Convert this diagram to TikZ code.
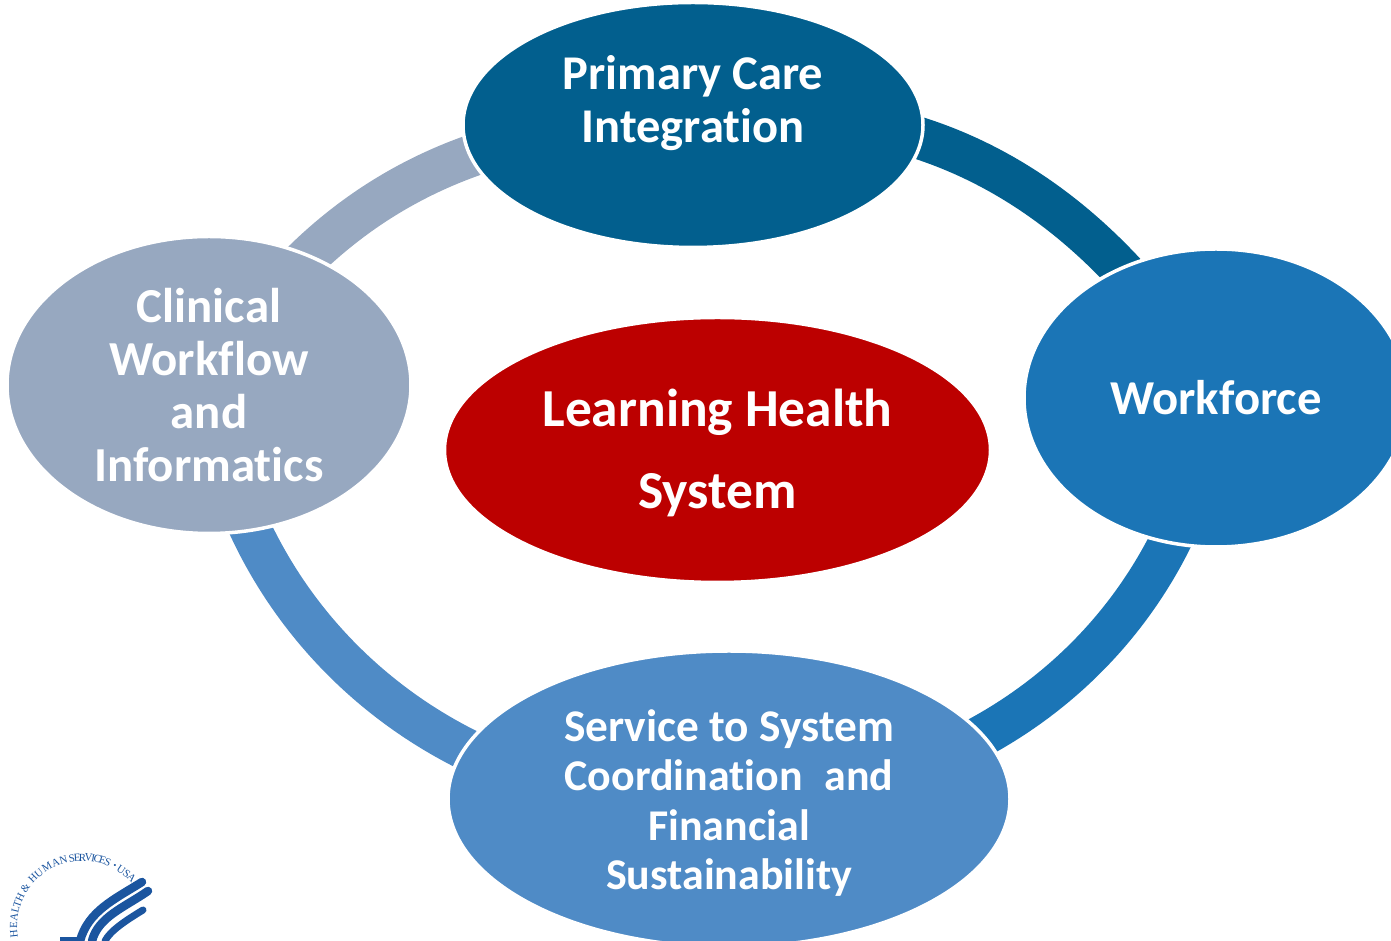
\documentclass[tikz,border=0pt]{standalone}
\usepackage{fontspec}
\setmainfont{Carlito}[Ligatures=NoCommon]
\newfontfamily\sealfont{Liberation Serif}
\usetikzlibrary{shapes.geometric,backgrounds}
\definecolor{topblue}{HTML}{025F8E}
\definecolor{rightblue}{HTML}{1B75B6}
\definecolor{leftgrey}{HTML}{97A8C0}
\definecolor{lowblue}{HTML}{4F8BC6}
\definecolor{midred}{HTML}{BC0000}
\definecolor{sealblue}{HTML}{1B559F}
\tikzset{
  blob/.style={ellipse,draw=white,line width=0.035cm,inner sep=0pt,text=white,align=center,font=\bfseries},
  band/.style={line width=0.42cm},
  sealchar/.style={inner sep=0pt,text=sealblue,font=\sealfont\fontsize{3.1}{3.5}\selectfont}
}
\begin{document}
\begin{tikzpicture}[auto]
        \useasboundingbox (0, 0) rectangle (13.91, 9.41);

        \node[blob,fill=topblue,minimum width=4.6cm,minimum height=2.45cm,font=\fontsize{13.8}{14.8}\bfseries\selectfont] (care) at (6.93, 8.16) {Primary Care\\Integration\\~};
        \node[blob,fill=rightblue,minimum width=3.84cm,minimum height=2.98cm,font=\fontsize{13.85}{14.8}\bfseries\selectfont] (work) at (12.16, 5.43) {Workforce};
        \node[blob,fill=leftgrey,minimum width=4.04cm,minimum height=2.97cm,font=\fontsize{13.9}{15}\bfseries\selectfont] (clin) at (2.09, 5.56) {Clinical\\Workflow\\and\\Informatics};
        \node[blob,fill=midred,minimum width=5.46cm,minimum height=2.65cm,font=\fontsize{15.2}{23.3}\bfseries\selectfont] (learn) at (7.175, 4.91) {\rule{0pt}{12.5pt}Learning Health\\System};
        \node[blob,fill=lowblue,minimum width=5.62cm,minimum height=2.96cm,font=\fontsize{12.5}{14}\bfseries\selectfont] (serv) at (7.29, 1.42) {\rule{0pt}{11.3pt}{\fontsize{12.9}{14}\selectfont Service to System}\\Coordination\hspace{0.5em}and\\Financial\\Sustainability};

        \begin{pgfonlayer}{background}
          \draw[band,topblue] (care.center) to[out=10,in=120] (work.center);
          \draw[band,rightblue] (work.center) to[out=-99,in=0] (serv.center);
          \draw[band,lowblue] (serv.center) to[out=185,in=-83] (clin.center);
          \draw[band,leftgrey] (clin.center) to[out=60,in=178] (care.center);
        \end{pgfonlayer}

        % seal in the corner
        \foreach \ch/\ang [count=\i] in {H/186,E/179,A/172,L/166,T/161,H/155,\&/146,H/136,U/129,M/121,A/113,N/106,S/99,E/94.5,R/90,V/85,I/81,C/77.5,E/73,S/68.5,$\cdot$/62,U/56,S/50,A/44.5}
          \node[sealchar,rotate={\ang-90}] (seal\i) at ({0.825+0.69*cos(\ang)}, {0.145+0.69*sin(\ang)}) {\ch};
        \begin{scope}
          \clip (0, 0) rectangle (2, 1);
          \draw[sealblue,line width=0.085cm,line cap=round] (1.42, 0.59) .. controls (1.15, 0.42) and (0.88, 0.30) .. (0.80, 0.00);
          \draw[sealblue,line width=0.085cm,line cap=round] (1.48, 0.50) .. controls (1.25, 0.34) and (0.98, 0.24) .. (0.92, 0.00);
          \draw[sealblue,line width=0.07cm,line cap=round] (1.43, 0.31) .. controls (1.25, 0.20) and (1.10, 0.10) .. (1.05, 0.00);
          \draw[sealblue,line width=0.05cm] (0.60, 0.01) -- (0.83, 0.01);
        \end{scope}
      \end{tikzpicture}
\end{document}
